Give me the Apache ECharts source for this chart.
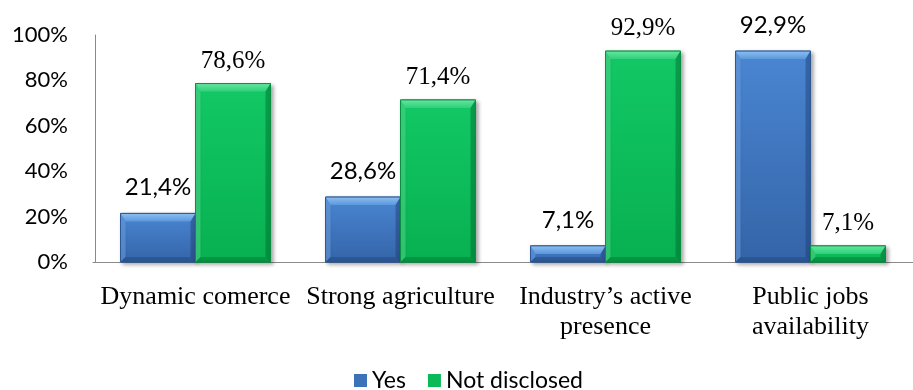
<!DOCTYPE html>
<html>
<head>
<meta charset="utf-8">
<script src="https://cdn.jsdelivr.net/npm/echarts@6/dist/echarts.min.js"></script>
<style>
  html, body { margin: 0; padding: 0; background: #fff; }
  #chart { width: 913px; height: 390px; }
</style>
</head>
<body>
<div id="chart"></div>
<script>
// Factors and share of answers (percent)
var categories = ['Dynamic comerce', 'Strong agriculture', 'Industry\u2019s active\npresence', 'Public jobs\navailability'];
var yesValues = [21.4, 28.6, 7.1, 92.9];
var notDisclosedValues = [78.6, 71.4, 92.9, 7.1];
var yTicks = [0, 20, 40, 60, 80, 100];

var SANS = 'Lato';
var SERIF = 'Liberation Serif';
var BAR_W = 75;

function pct(v) { return v.toFixed(1).replace('.', ',') + '%'; }

function vgrad(a, b) {
  return { type: 'linear', x: 0, y: 0, x2: 0, y2: 1, colorStops: [{ offset: 0, color: a }, { offset: 1, color: b }] };
}

// Bevelled bar: body plus four edge facets, with the value written above it.
function bevelRenderer(pal, side, labelFamily, labelSize, labelGap) {
  return function (params, api) {
    var idx = api.value(0), v = api.value(1);
    var topPt = api.coord([idx, v]);
    var basePt = api.coord([idx, 0]);
    var left = side < 0 ? topPt[0] - BAR_W : topPt[0];
    var right = left + BAR_W;
    var y0 = topPt[1], y1 = basePt[1];
    var h = y1 - y0;
    var b = Math.min(8, h / 2);
    var s = Math.min(5, h / 2);
    return {
      type: 'group',
      children: [
        { type: 'rect', shape: { x: left, y: y0, width: BAR_W, height: h },
          style: { fill: vgrad(pal.bodyTop, pal.bodyBottom), stroke: pal.edge, lineWidth: 1,
                   shadowColor: 'rgba(0,0,0,0.35)', shadowBlur: 4, shadowOffsetX: 2, shadowOffsetY: 2 } },
        { type: 'polygon', shape: { points: [[left, y0], [right, y0], [right - s, y0 + b], [left + s, y0 + b]] },
          style: { fill: vgrad(pal.topLight, pal.topDark) } },
        { type: 'polygon', shape: { points: [[left, y0], [left + s, y0 + b], [left + s, y1 - s], [left, y1]] },
          style: { fill: pal.leftFacet } },
        { type: 'polygon', shape: { points: [[right, y0], [right - s, y0 + b], [right - s, y1 - s], [right, y1]] },
          style: { fill: pal.rightFacet } },
        { type: 'polygon', shape: { points: [[left, y1], [left + s, y1 - s], [right - s, y1 - s], [right, y1]] },
          style: { fill: pal.bottomFacet } },
        { type: 'rect', shape: { x: left, y: y0, width: BAR_W, height: h },
          style: { fill: 'none', stroke: pal.edge, lineWidth: 1 } },
        { type: 'text',
          style: { text: pct(v), x: left + BAR_W / 2, y: y0 - labelGap, align: 'center', verticalAlign: 'bottom',
                   fontFamily: labelFamily, fontSize: labelSize, fill: '#000' } }
      ]
    };
  };
}

var bluePal = {
  bodyTop: '#4a86d2', bodyBottom: '#3464a8', edge: '#2c5896',
  topLight: '#8cc0f2', topDark: '#5b97dc',
  leftFacet: 'rgba(110,160,225,0.55)', rightFacet: 'rgba(30,60,110,0.45)', bottomFacet: 'rgba(30,60,110,0.35)'
};
var greenPal = {
  bodyTop: '#12c865', bodyBottom: '#08b050', edge: '#079040',
  topLight: '#64e6a0', topDark: '#2fd07a',
  leftFacet: 'rgba(90,220,150,0.5)', rightFacet: 'rgba(0,90,40,0.4)', bottomFacet: 'rgba(0,90,40,0.3)'
};

function pairs(values) { return values.map(function (v, i) { return [i, v]; }); }

var chart = echarts.init(document.getElementById('chart'));
chart.setOption({
  animation: false,
  grid: { left: 93, width: 830, top: 35, bottom: 128, containLabel: false },
  legend: {
    left: 349, top: 364,
    itemWidth: 13, itemHeight: 13, itemGap: 22,
    icon: 'rect',
    textStyle: { fontFamily: SANS, fontSize: 23, color: '#000' },
    data: ['Yes', 'Not disclosed']
  },
  xAxis: {
    type: 'category',
    data: categories,
    axisLine: { lineStyle: { color: '#8a8a8a', width: 1 } },
    axisTick: { show: false },
    axisLabel: { fontFamily: SERIF, fontSize: 26, color: '#000', margin: 20, lineHeight: 30, interval: 0 }
  },
  yAxis: {
    type: 'value', min: 0, max: 100, interval: 20, offset: -2,
    axisLine: { show: true, lineStyle: { color: '#8a8a8a', width: 1 } },
    axisTick: { show: false },
    splitLine: { show: false },
    axisLabel: {
      fontFamily: SANS, fontSize: 22, color: '#000', margin: 27,
      formatter: function (v) { return yTicks.indexOf(v) >= 0 ? v + '%' : ''; }
    }
  },
  series: [
    {
      name: 'Yes', type: 'custom', data: pairs(yesValues),
      encode: { x: 0, y: 1 },
      itemStyle: { color: '#3b72ba' },
      renderItem: bevelRenderer(bluePal, -1, SANS, 24, 14)
    },
    {
      name: 'Not disclosed', type: 'custom', data: pairs(notDisclosedValues),
      encode: { x: 0, y: 1 },
      itemStyle: { color: '#0aba56' },
      renderItem: bevelRenderer(greenPal, 1, SERIF, 25, 10)
    }
  ]
});
</script>
</body>
</html>
